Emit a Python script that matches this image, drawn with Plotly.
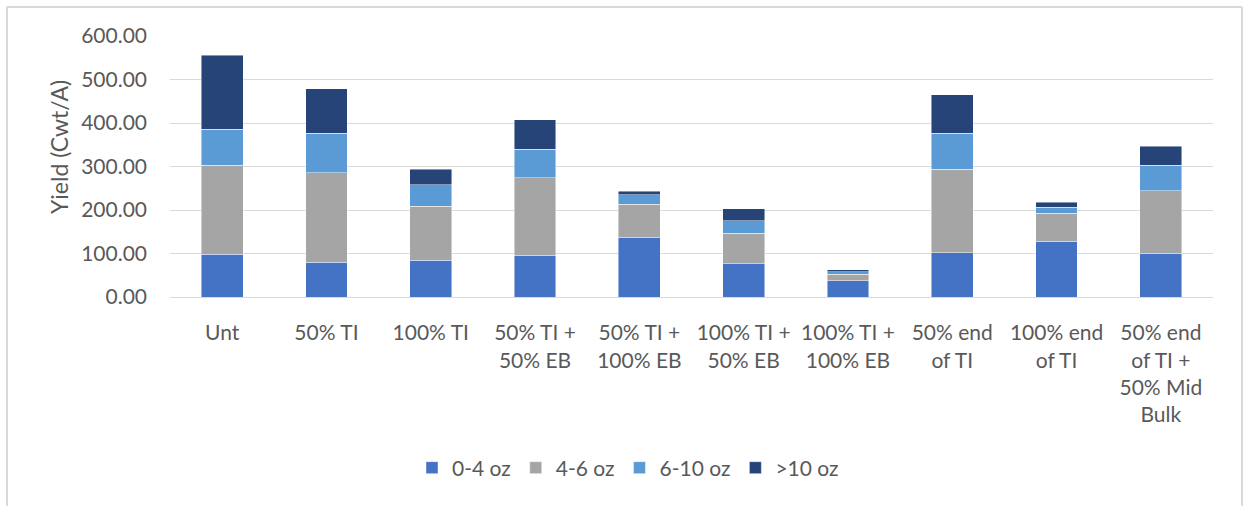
import plotly.graph_objects as go

# Yield by tuber size class for each treatment (Cwt/A)
categories = [
    "Unt",
    "50% TI",
    "100% TI",
    "50% TI +<br>50% EB",
    "50% TI +<br>100% EB",
    "100% TI +<br>50% EB",
    "100% TI +<br>100% EB",
    "50% end<br>of TI",
    "100% end<br>of TI",
    "50% end<br>of TI +<br>50% Mid<br>Bulk",
]
size_0_4 = [98, 80, 84, 96, 137, 76, 37, 102, 128, 101]
size_4_6 = [205, 206, 125, 178, 76, 70, 15, 192, 64, 143]
size_6_10 = [83, 91, 49, 66, 22, 29, 6, 83, 14, 59]
size_gt_10 = [170, 102, 36, 67, 8, 28, 5, 88, 12, 43]

series = [
    ("0-4 oz", size_0_4, "#4472C4"),
    ("4-6 oz", size_4_6, "#A5A5A5"),
    ("6-10 oz", size_6_10, "#5B9BD5"),
    (">10 oz", size_gt_10, "#264478"),
]

y_ticks = [0, 100, 200, 300, 400, 500, 600]

FONT = "Lato"
TEXT = "#595959"
GRID = "#D9D9D9"

fig = go.Figure()
for name, vals, color in series:
    fig.add_trace(go.Bar(
        x=categories, y=vals, name=name,
        marker=dict(color=color, line=dict(color="rgba(255,255,255,0.6)", width=0.75)),
    ))

W, H = 1244, 506
L, R, T, B = 170, 31, 36, 209
pw, ph = W - L - R, H - T - B

def px_x(x):
    return (x - L) / pw

def px_y(y):
    return (H - B - y) / ph

fig.update_layout(
    width=W, height=H,
    margin=dict(l=L, r=R, t=T, b=B, autoexpand=False),
    barmode="stack",
    bargap=0.6,
    paper_bgcolor="white",
    plot_bgcolor="white",
    font=dict(family=FONT, size=21, color=TEXT),
    legend=dict(
        orientation="h", x=px_x(412), xanchor="left",
        y=px_y(468), yanchor="middle",
        font=dict(family=FONT, size=21, color=TEXT),
        itemclick=False, traceorder="normal",
    ),
    xaxis=dict(
        showgrid=False, showline=True, linecolor=GRID, linewidth=1,
        ticks="", ticklabelstandoff=17, tickangle=0,
        tickfont=dict(family=FONT, size=21, color=TEXT),
    ),
    yaxis=dict(
        range=[0, 600], tickvals=y_ticks, tickformat=".2f",
        showgrid=True, gridcolor=GRID, gridwidth=1.3,
        zeroline=False, showline=False, ticks="",
        ticklabelstandoff=22,
        tickfont=dict(family=FONT, size=21, color=TEXT),
    ),
    annotations=[
        dict(text="Yield (Cwt/A)", xref="paper", yref="paper",
             x=px_x(59), y=px_y(147), xanchor="center", yanchor="middle",
             textangle=-90, showarrow=False,
             font=dict(family=FONT, size=23, color=TEXT)),
    ],
    shapes=[
        dict(type="line", xref="paper", yref="paper", x0=px_x(7), x1=px_x(7),
             y0=px_y(7), y1=px_y(520), line=dict(color=GRID, width=2)),
        dict(type="line", xref="paper", yref="paper", x0=px_x(7), x1=px_x(1242),
             y0=px_y(7), y1=px_y(7), line=dict(color=GRID, width=2)),
        dict(type="line", xref="paper", yref="paper", x0=px_x(1242), x1=px_x(1242),
             y0=px_y(7), y1=px_y(520), line=dict(color=GRID, width=2)),
    ],
)

fig.write_html("out.html")
